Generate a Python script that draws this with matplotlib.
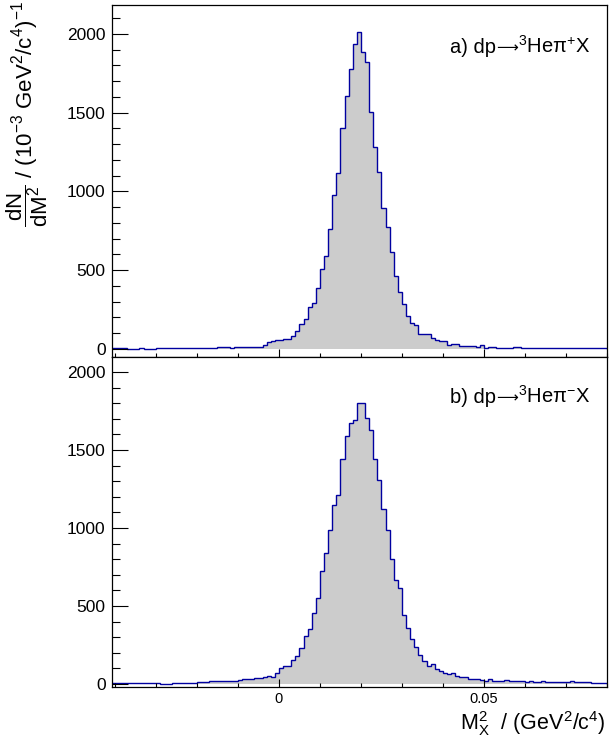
import numpy as np
import matplotlib
matplotlib.use("Agg")
import matplotlib.pyplot as plt
from matplotlib.ticker import MultipleLocator, FixedLocator
from matplotlib.transforms import IdentityTransform

plt.rcParams['font.family'] = ['Liberation Sans', 'DejaVu Sans']
plt.rcParams['mathtext.fontset'] = 'custom'
plt.rcParams['mathtext.rm'] = 'Liberation Sans'
plt.rcParams['mathtext.it'] = 'Liberation Sans'
plt.rcParams['mathtext.bf'] = 'Liberation Sans:bold'

# binning of M_X^2 (GeV^2/c^4): first bin low edge and width
bin_lo = -0.041
bin_width = 0.001

# a) dp -> 3He pi+ X, counts per bin (121 bins, from -0.041 to 0.080)
counts_pip = [
    3, 3, 3, 3, 2, 2, 2, 6, 2, 2, 2, 8, 4, 4, 4, 4,           # -0.041 .. -0.026
    6, 6, 8, 8, 6, 6, 6, 6, 6, 8, 10, 10, 13, 8, 13, 15,       # -0.025 .. -0.010
    15, 13, 13, 13, 15, 25, 44, 48, 57,                        # -0.009 .. -0.001
    58, 61, 66, 85, 113, 159, 188, 265, 294, 385,              # 0.000 .. 0.009
    506, 593, 760, 978, 1116, 1401, 1607, 1780, 1936, 2015,    # 0.010 .. 0.019
    1888, 1824, 1507, 1282, 1122, 894, 777, 618, 461, 364,     # 0.020 .. 0.029
    288, 211, 167, 155, 98, 96, 95, 68, 55, 53,                # 0.030 .. 0.039
    52, 27, 30, 30, 19, 19, 19, 19, 11, 28,                    # 0.040 .. 0.049
    5, 11, 15, 8, 8, 8, 8, 11, 11, 3,                          # 0.050 .. 0.059
    4, 4, 4, 4, 4, 4, 4, 4, 8, 4,                              # 0.060 .. 0.069
    4, 4, 4, 4, 4, 4, 4, 4, 4, 4,                              # 0.070 .. 0.079
]

# b) dp -> 3He pi- X
counts_pim = [
    8, 8, 8, 8, 8, 8, 8, 6, 8, 6, 4, 4, 2, 2, 2, 8,           # -0.041 .. -0.026
    8, 8, 8, 8, 8, 13, 13, 13, 19, 17, 17, 17, 17, 17, 17, 26, # -0.025 .. -0.010
    30, 30, 32, 38, 36, 45, 52, 47, 73,                        # -0.009 .. -0.001
    105, 115, 116, 155, 180, 232, 310, 350, 454, 549,          # 0.000 .. 0.009
    726, 841, 988, 1150, 1212, 1440, 1591, 1676, 1691, 1800,   # 0.010 .. 0.019
    1800, 1704, 1629, 1442, 1310, 1122, 986, 799, 665, 618,    # 0.020 .. 0.029
    443, 360, 290, 240, 188, 145, 114, 130, 94, 83,            # 0.030 .. 0.039
    72, 64, 68, 51, 43, 43, 30, 30, 33, 26,                    # 0.040 .. 0.049
    21, 34, 21, 21, 21, 26, 19, 19, 19, 19,                    # 0.050 .. 0.059
    13, 17, 13, 13, 17, 15, 13, 13, 13, 13,                    # 0.060 .. 0.069
    13, 19, 11, 11, 11, 11, 5, 5, 5, 5,                        # 0.070 .. 0.079
]

# reaction labels: prefix, arrow, product part
label_pre = ['a) dp', 'b) dp']
label_post = [u'$^{3}$He\u03c0$^{+}$X', u'$^{3}$He\u03c0$^{-}$X']
ylims = [(-51, 2184), (-19, 2096)]
label_y = [0.864, 0.861]

edges = bin_lo + bin_width * np.arange(len(counts_pip) + 1)

fig = plt.figure(figsize=(6.16, 7.42), dpi=100)
ax1 = fig.add_axes([0.1818, 0.5189, 0.8036, 0.4744])
ax2 = fig.add_axes([0.1818, 0.0741, 0.8036, 0.4447])
renderer = fig.canvas.get_renderer()

for ax, counts, pre, post, yl, ly in zip([ax1, ax2], [counts_pip, counts_pim],
                                         label_pre, label_post, ylims, label_y):
    ax.stairs(counts, edges, fill=True, color='#cccccc', lw=0)
    ax.stairs(counts, edges, color='#0000a0', lw=1.0)
    ax.set_xlim(-0.0407, 0.080)
    ax.set_ylim(*yl)
    ax.xaxis.set_major_locator(FixedLocator([0, 0.05]))
    ax.xaxis.set_minor_locator(MultipleLocator(0.01))
    ax.yaxis.set_major_locator(MultipleLocator(500))
    ax.yaxis.set_minor_locator(MultipleLocator(100))
    ax.tick_params(axis='y', which='major', direction='in', length=11.5, width=0.8,
                   labelsize=12.5, pad=4.5, right=False)
    ax.tick_params(axis='y', which='minor', direction='in', length=5.8, width=0.8, right=False)
    ax.tick_params(axis='x', which='major', direction='in', length=5.8, width=0.8,
                   labelsize=10.5, pad=3.5, top=False)
    ax.tick_params(axis='x', which='minor', direction='in', length=2.9, width=0.8, top=False)
    for s in ax.spines.values():
        s.set_linewidth(0.9)

    # label built from pieces so the long arrow can come from DejaVu Sans
    t3 = ax.text(0.966, ly, post, transform=ax.transAxes, ha='right', va='baseline',
                 fontsize=14.5)
    xd, yd = ax.transAxes.transform((0.966, ly))
    x3 = t3.get_window_extent(renderer).x0
    t2 = fig.text(x3, yd + 0.5, u'\u27f6', transform=IdentityTransform(), ha='right',
                  va='baseline', fontsize=11, family='DejaVu Sans')
    x2 = t2.get_window_extent(renderer).x0
    fig.text(x2, yd, pre, transform=IdentityTransform(), ha='right', va='baseline',
             fontsize=14.5)

ax1.tick_params(axis='x', labelbottom=False)
ax2.xaxis.set_major_formatter(plt.FuncFormatter(lambda v, p: '0' if v == 0 else '%g' % v))

fig.text(0.044, 0.999,
         r'$\dfrac{\mathrm{dN}}{\mathrm{dM}^{2}}$ / (10$^{-3}$ GeV$^{2}$/c$^{4}$)$^{-1}$',
         rotation=90, ha='center', va='top', fontsize=16)
fig.text(0.983, 0.006, r'M$_{\mathrm{X}}^{2}$  / (GeV$^{2}$/c$^{4}$)',
         ha='right', va='bottom', fontsize=15.5)

fig.savefig('out.png', dpi=100)
